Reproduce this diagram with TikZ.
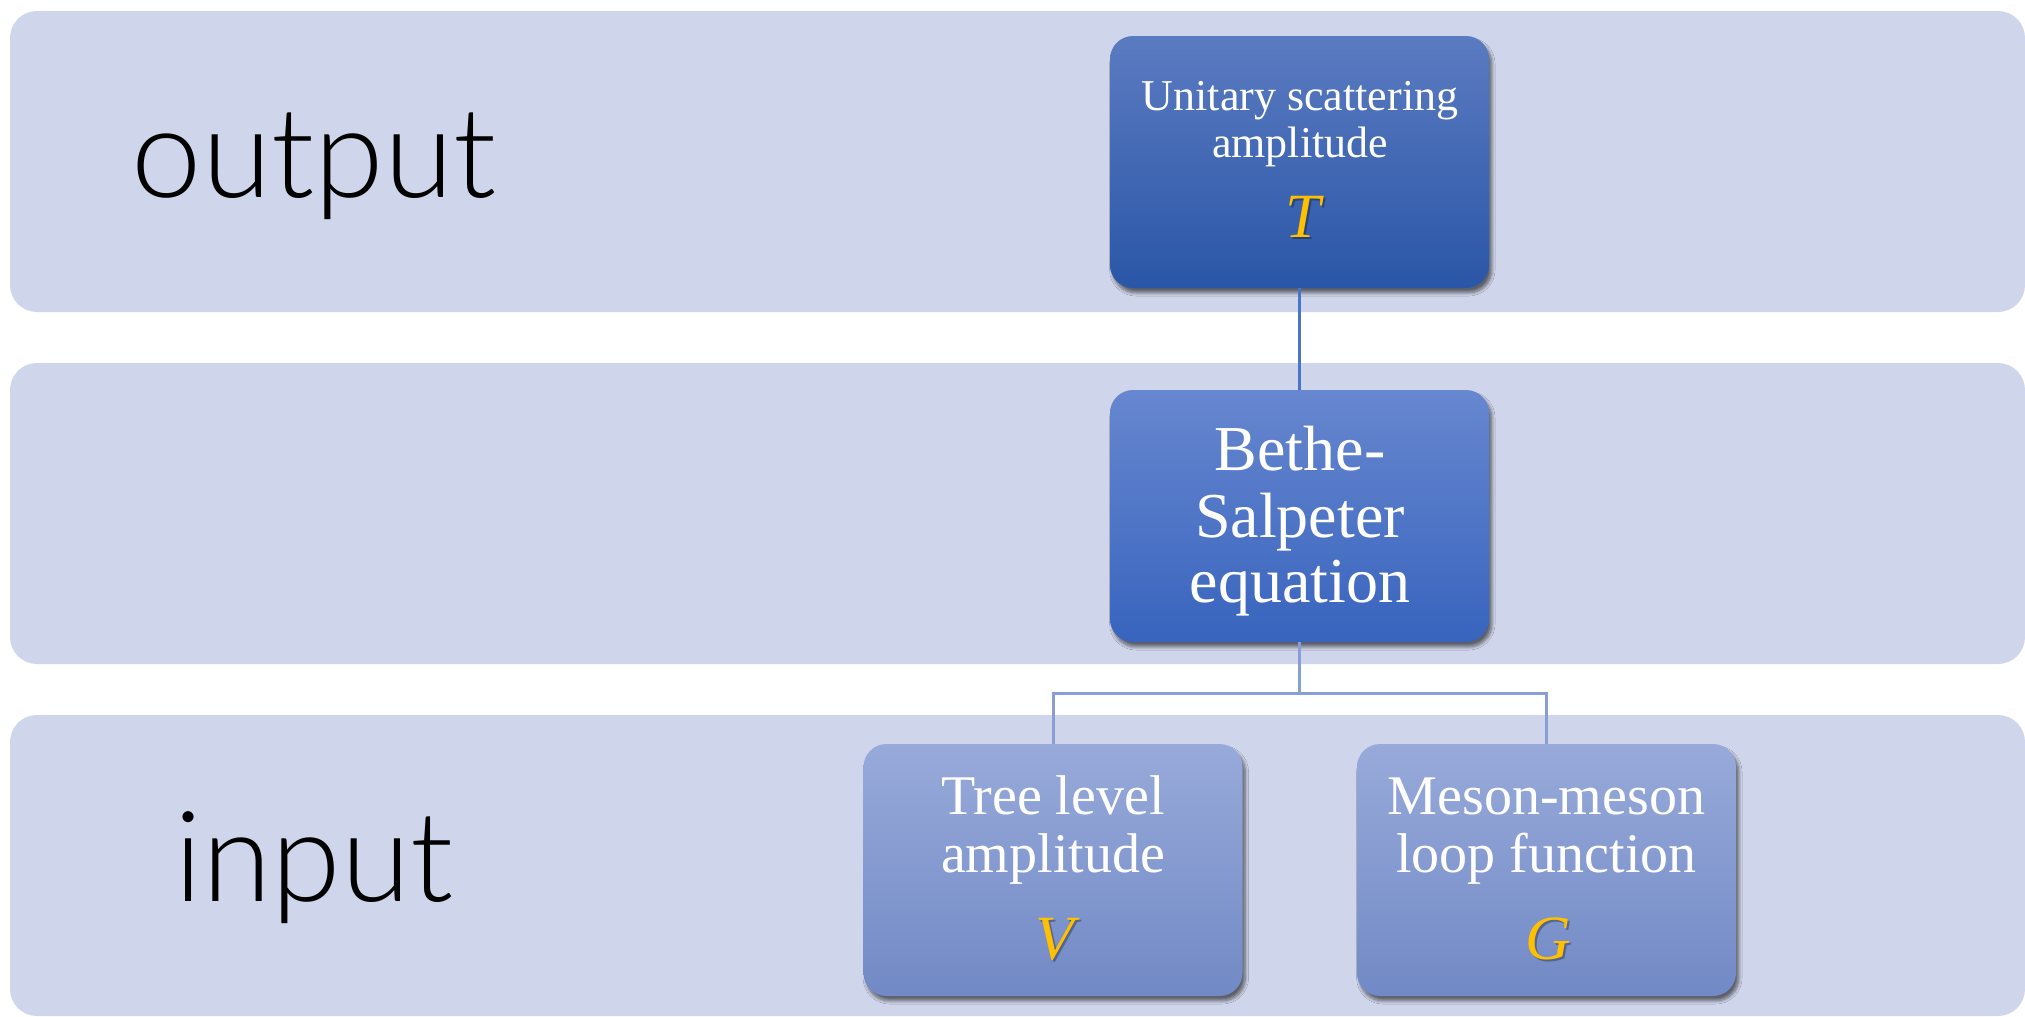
\documentclass[tikz,border=0pt]{standalone}
\usepackage{fontspec}
\setmainfont{Liberation Serif}
\newfontfamily\labelfont{Lato Light}
\usetikzlibrary{shadows.blur}

\definecolor{bandfill}{HTML}{CFD5EA}
\definecolor{gold}{HTML}{FFC000}
\definecolor{linkdark}{HTML}{4A74C8}
\definecolor{linklight}{HTML}{8A9ED6}
\definecolor{ampTop}{HTML}{5B7BC1}
\definecolor{ampBot}{HTML}{2A56A7}
\definecolor{bseTop}{HTML}{6787CF}
\definecolor{bseBot}{HTML}{3864BE}
\definecolor{inTop}{HTML}{98AADA}
\definecolor{inBot}{HTML}{7189C5}

\tikzset{
  band/.style={fill=bandfill, rounded corners=13.5pt, minimum width=1007.5pt,
    minimum height=150.5pt, inner sep=0pt},
  boxbase/.style={rounded corners=11.5pt, minimum width=189.5pt, minimum height=126pt,
    inner sep=0pt,
    blur shadow={shadow xshift=1.4pt, shadow yshift=-2.4pt, shadow blur steps=8,
      shadow blur radius=1.6pt, shadow opacity=55}},
  darkbox/.style={boxbase, top color=ampTop, bottom color=ampBot},
  midbox/.style={boxbase, top color=bseTop, bottom color=bseBot},
  lightbox/.style={boxbase, top color=inTop, bottom color=inBot},
  boxtext/.style={anchor=base, inner sep=0pt, text=white},
  symb/.style={anchor=base, inner sep=0pt, text=gold, font=\fontsize{31.5}{31.5}\selectfont\itshape},
  symbshadow/.style={anchor=base, inner sep=0pt, text=black, opacity=0.3,
    font=\fontsize{31.5}{31.5}\selectfont\itshape},
  rowlabel/.style={anchor=base, inner sep=0pt, text=black,
    font=\labelfont\fontsize{63}{63}\selectfont},
  link1/.style={draw=linkdark, line width=1.5pt},
  link2/.style={draw=linklight, line width=1.5pt},
}

\begin{document}
\begin{tikzpicture}[x=0.5pt, y=-0.5pt]
  \useasboundingbox (0,0) rectangle (2025,1017);

  % three horizontal bands
  \node[band] (bandout) at (1017.5,161.5) {};
  \node[band] (bandmid) at (1017.5,513.5) {};
  \node[band] (bandin)  at (1017.5,865.5) {};

  \node[rowlabel] (lblout) at (314,197) {output};
  \node[rowlabel] (lblin)  at (314,901) {input};

  % boxes
  \node[darkbox]  (amp)  at (1299.5,162) {};
  \node[midbox]   (bse)  at (1299.5,516) {};
  \node[lightbox] (tree) at (1053,870)   {};
  \node[lightbox] (loop) at (1546.5,870) {};

  % connectors
  \draw[link1] (amp.south) -- (bse.north);
  \coordinate (split) at (1299.5,693);
  \draw[link2] (bse.south) -- (split);
  \draw[link2] (split) -| (tree.north);
  \draw[link2] (split) -| (loop.north);

  % output box text
  \begin{scope}[every node/.append style={font=\fontsize{22}{22}\selectfont}]
    \node[boxtext] (amp1) at (1300,110) {Unitary scattering};
    \node[boxtext] (amp2) at (1300,157) {amplitude};
  \end{scope}
  \node[symbshadow] (ampTs) at (1305,239.5) {T};
  \node[symb] (ampT) at (1303,237.5) {T};

  % Bethe-Salpeter text
  \begin{scope}[every node/.append style={font=\fontsize{32}{32}\selectfont}]
    \node[boxtext] (bse1) at (1300,470) {Bethe-};
    \node[boxtext] (bse2) at (1300,537) {Salpeter};
    \node[boxtext] (bse3) at (1300,602) {equation};
  \end{scope}

  % input box texts
  \begin{scope}[every node/.append style={font=\fontsize{28}{28}\selectfont}]
    \node[boxtext] (tree1) at (1053,814) {Tree level};
    \node[boxtext] (tree2) at (1053,872) {amplitude};
    \node[boxtext] (loop1) at (1546.5,814) {Meson-meson};
    \node[boxtext] (loop2) at (1546.5,872) {loop function};
  \end{scope}
  \node[symbshadow] (treeVs) at (1057,961) {V};
  \node[symb] (treeV) at (1055,959) {V};
  \node[symbshadow] (loopGs) at (1550,961) {G};
  \node[symb] (loopG) at (1548,959) {G};
\end{tikzpicture}
\end{document}
